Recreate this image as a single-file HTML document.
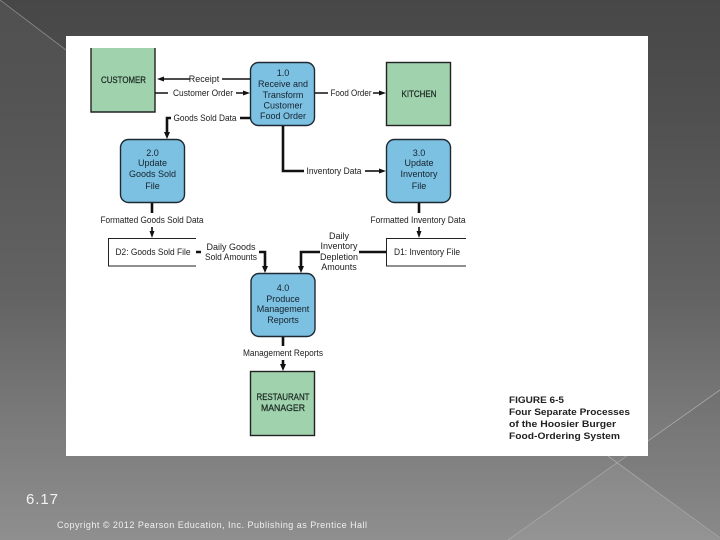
<!DOCTYPE html>
<html lang="en">
<head>
<meta charset="utf-8">
<title>Figure 6-5</title>
<style>
html,body{margin:0;padding:0;background:#555}
svg{display:block}
text{font-family:"Liberation Sans",sans-serif}
.l{font-size:9px;fill:#1c1c1c;text-anchor:middle}
.p{font-size:9px;fill:#16222c;text-anchor:middle}
.e{font-size:9px;fill:#1c2a22;text-anchor:middle;stroke:#1c2a22;stroke-width:.25}
.c{fill:none;stroke:#111;stroke-width:1.6}
.t{fill:none;stroke:#111;stroke-width:2.6}
.f{font-size:9.5px;font-weight:bold;fill:#222}
.soft{filter:blur(.3px)}
</style>
</head>
<body>
<svg width="720" height="540" viewBox="0 0 720 540" xmlns="http://www.w3.org/2000/svg">
<defs>
<linearGradient id="bg" x1="0" y1="0" x2="0" y2="1">
<stop offset="0" stop-color="#474747"/>
<stop offset=".2" stop-color="#4f4f4f"/>
<stop offset=".55" stop-color="#636363"/>
<stop offset=".8" stop-color="#7c7c7c"/>
<stop offset="1" stop-color="#8f8f8f"/>
</linearGradient>
<linearGradient id="fade" x1="0" y1="0" x2="0" y2="1">
<stop offset="0" stop-color="#fff" stop-opacity=".05"/>
<stop offset="1" stop-color="#fff" stop-opacity="0"/>
</linearGradient>
</defs>
<rect width="720" height="540" fill="url(#bg)"/>
<polygon points="0,0 66,50 66,300 0,300" fill="url(#fade)"/>
<polygon points="617,462 720,390 720,538" fill="#000" opacity=".03"/>
<polygon points="508,540 617,462 720,540" fill="#fff" opacity=".05"/>
<line x1="0" y1="0" x2="66" y2="50" stroke="#8a8a8a" stroke-width=".8"/>
<line x1="720" y1="390" x2="508" y2="540" stroke="#a8a8a8" stroke-width=".8"/>
<line x1="608" y1="456" x2="720" y2="538" stroke="#a8a8a8" stroke-width=".8"/>

<rect x="66" y="36" width="582" height="420" fill="#fff"/>

<g class="soft">
<!-- external entities -->
<path d="M91 48V112H155V48" fill="#a0d2ae" stroke="#222" stroke-width="1.4"/>
<rect x="386.500" y="62.500" width="64" height="63" fill="#a0d2ae" stroke="#222" stroke-width="1.4"/>
<rect x="250.500" y="371.500" width="64" height="64" fill="#a0d2ae" stroke="#222" stroke-width="1.4"/>

<!-- processes -->
<rect x="250.500" y="62.500" width="64" height="63" rx="8" fill="#7cc0e2" stroke="#1e2a33" stroke-width="1.4"/>
<rect x="120.500" y="139.500" width="64" height="63" rx="8" fill="#7cc0e2" stroke="#1e2a33" stroke-width="1.4"/>
<rect x="386.500" y="139.500" width="64" height="63" rx="8" fill="#7cc0e2" stroke="#1e2a33" stroke-width="1.4"/>
<rect x="251" y="273.500" width="64" height="63" rx="8" fill="#7cc0e2" stroke="#1e2a33" stroke-width="1.4"/>

<!-- data stores -->
<path d="M196 238.500H108.500V266H196" fill="#fff" stroke="#222" stroke-width="1"/>
<path d="M466 238.500H386.500V266H466" fill="#fff" stroke="#222" stroke-width="1"/>

<!-- connectors -->
<path class="c" d="M250 79H222M190 79H163"/>
<polygon points="157,79 164,76.500 164,81.500" fill="#111"/>
<path class="c" d="M155 93H168M236 93H244"/>
<polygon points="250,93 243,90.500 243,95.500" fill="#111"/>
<path class="c" d="M315 93H328M373 93H380"/>
<polygon points="386,93 379,90.500 379,95.500" fill="#111"/>
<path class="t" d="M250 118H240M171 118H167V132"/>
<polygon points="167,139 164,132 170,132" fill="#111"/>
<path class="t" d="M283 126V171H304"/>
<path class="c" d="M365 171H381"/>
<polygon points="386,171 379,168.500 379,173.500" fill="#111"/>
<path class="t" d="M152 203V213"/>
<path class="c" d="M152 227V233"/>
<polygon points="152,238 149.500,231 154.500,231" fill="#111"/>
<path class="t" d="M419 203V213"/>
<path class="c" d="M419 227V233"/>
<polygon points="419,238 416.500,231 421.500,231" fill="#111"/>
<path class="t" d="M196 252H201M259 252H265V267"/>
<polygon points="265,273 262,266 268,266" fill="#111"/>
<path class="t" d="M386 252H359M320 252H301V266"/>
<polygon points="301,273 298,266 304,266" fill="#111"/>
<path class="t" d="M283 337V346"/>
<path class="t" d="M283 360V366"/>
<polygon points="283,371 280,364 286,364" fill="#111"/>

<!-- entity labels -->
<text class="e" x="123.500" y="83" textLength="45" lengthAdjust="spacingAndGlyphs">CUSTOMER</text>
<text class="e" x="419" y="97" textLength="35" lengthAdjust="spacingAndGlyphs">KITCHEN</text>
<text class="e" x="283" y="400" textLength="53" lengthAdjust="spacingAndGlyphs">RESTAURANT</text>
<text class="e" x="283" y="411" textLength="44" lengthAdjust="spacingAndGlyphs">MANAGER</text>

<!-- process labels -->
<text class="p" x="283" y="76">1.0</text>
<text class="p" x="283" y="87">Receive and</text>
<text class="p" x="283" y="98">Transform</text>
<text class="p" x="283" y="108.500">Customer</text>
<text class="p" x="283" y="119">Food Order</text>
<text class="p" x="152.500" y="156">2.0</text>
<text class="p" x="152.500" y="166">Update</text>
<text class="p" x="152.500" y="177">Goods Sold</text>
<text class="p" x="152.500" y="189">File</text>
<text class="p" x="419" y="156">3.0</text>
<text class="p" x="419" y="166">Update</text>
<text class="p" x="419" y="177">Inventory</text>
<text class="p" x="419" y="189">File</text>
<text class="p" x="283" y="291">4.0</text>
<text class="p" x="283" y="302">Produce</text>
<text class="p" x="283" y="312">Management</text>
<text class="p" x="283" y="323">Reports</text>

<!-- store labels -->
<text class="l" x="153" y="255" textLength="75" lengthAdjust="spacingAndGlyphs">D2: Goods Sold File</text>
<text class="l" x="427" y="255" textLength="66" lengthAdjust="spacingAndGlyphs">D1: Inventory File</text>

<!-- flow labels -->
<text class="l" x="204" y="82">Receipt</text>
<text class="l" x="203" y="96" textLength="60" lengthAdjust="spacingAndGlyphs">Customer Order</text>
<text class="l" x="351" y="96" textLength="41" lengthAdjust="spacingAndGlyphs">Food Order</text>
<text class="l" x="205" y="121" textLength="63" lengthAdjust="spacingAndGlyphs">Goods Sold Data</text>
<text class="l" x="334" y="174" textLength="55" lengthAdjust="spacingAndGlyphs">Inventory Data</text>
<text class="l" x="152" y="223" textLength="103" lengthAdjust="spacingAndGlyphs">Formatted Goods Sold Data</text>
<text class="l" x="418" y="223" textLength="95" lengthAdjust="spacingAndGlyphs">Formatted Inventory Data</text>
<text class="l" x="231" y="250">Daily Goods</text>
<text class="l" x="231" y="260" textLength="52" lengthAdjust="spacingAndGlyphs">Sold Amounts</text>
<text class="l" x="339" y="239">Daily</text>
<text class="l" x="339" y="249">Inventory</text>
<text class="l" x="339" y="260">Depletion</text>
<text class="l" x="339" y="270">Amounts</text>
<text class="l" x="283" y="356" textLength="80" lengthAdjust="spacingAndGlyphs">Management Reports</text>

<!-- caption -->
<text class="f" x="509" y="403" textLength="55" lengthAdjust="spacingAndGlyphs">FIGURE 6-5</text>
<text class="f" x="509" y="415" textLength="121" lengthAdjust="spacingAndGlyphs">Four Separate Processes</text>
<text class="f" x="509" y="427" textLength="107" lengthAdjust="spacingAndGlyphs">of the Hoosier Burger</text>
<text class="f" x="509" y="439" textLength="111" lengthAdjust="spacingAndGlyphs">Food-Ordering System</text>
</g>

<!-- slide footer -->
<text x="26" y="504" font-size="15" fill="#f2f2f2" textLength="32">6.17</text>
<text x="57" y="528" font-size="9" fill="#f0f0f0" textLength="310">Copyright © 2012 Pearson Education, Inc. Publishing as Prentice Hall</text>
</svg>
</body>
</html>
